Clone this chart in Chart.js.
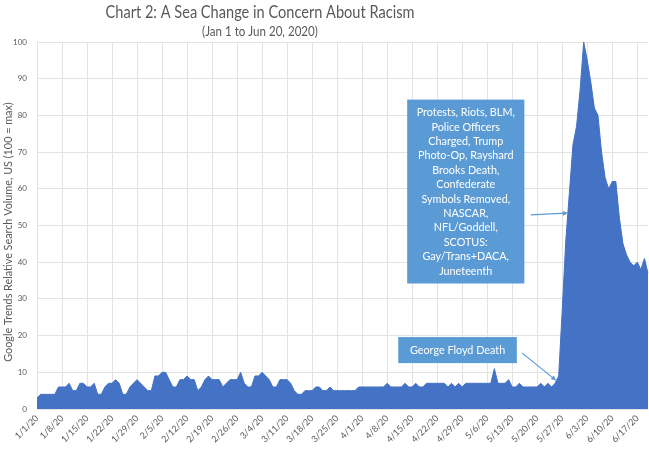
<!DOCTYPE html>
<html>
<head>
<meta charset="utf-8">
<title>Chart 2: A Sea Change in Concern About Racism</title>
<script src="https://cdn.jsdelivr.net/npm/chart.js@4.4.0/dist/chart.umd.min.js"></script>
<style>
  html, body { margin: 0; padding: 0; background: #ffffff; }
  #racism { display: block; }
</style>
</head>
<body>
<canvas id="racism" width="649" height="457"></canvas>
<script>

// google trends, US, relative search volume (100 = max), one value per day
var jan = [3,4,4,4,4,4,6,6,6,7,5,5,7,7,6,6,7,4,4,6,7,7,8,7,4,4,6,7,8,7,6];
var feb = [5,5,9,9,10,10,8,6,6,8,8,9,8,8,5,6,8,9,8,8,8,6,7,8,8,8,10,7,6];
var mar = [6,9,9,10,9,8,6,6,8,8,8,7,5,4,4,5,5,5,6,6,5,5,6,5,5,5,5,5,5,5,6];
var apr = [6,6,6,6,6,6,6,7,6,6,6,6,7,6,6,7,6,6,7,7,7,7,7,7,6,7,6,7,6,7];
var may = [7,7,7,7,7,7,7,11,7,7,7,8,6,6,7,6,6,6,6,6,7,6,7,6,7,9,27,46,59,72,77];
var jun = [87,100,95,89,82,80,70,63,60,62,62,52,45,42,40,39,40,38,41,37];

var seriesValues = jan.concat(feb, mar, apr, may, jun);

var yTicks = [0, 10, 20, 30, 40, 50, 60, 70, 80, 90, 100];
var tickEvery = 7; // a label every week: 1/1/20, 1/8/20 ...

var titleText = 'Chart 2: A Sea Change in Concern About Racism';
var subtitleText = '(Jan 1 to Jun 20, 2020)';
var yTitleText = 'Google Trends Relative Search Volume, US (100 = max)';

var protestLines = ['Protests, Riots, BLM,', 'Police Officers', 'Charged, Trump',
  'Photo-Op, Rayshard', 'Brooks Death,', 'Confederate', 'Symbols Removed,',
  'NASCAR,', 'NFL/Goddell,', 'SCOTUS:', 'Gay/Trans+DACA,', 'Juneteenth'];
var floydLines = ['George Floyd Death'];

// callouts, placed on the chart scales (x = day index, y = value)
var callouts = [
  {lines: protestLines, x0: 103.6, x1: 136.4, y0: 84.3, y1: 34.2, from: [138.2, 52.9], to: [148.7, 53.4]},
  {lines: floydLines, x0: 101.1, x1: 134.3, y0: 19.6, y1: 12.5, from: [135.7, 15.3], to: [145.4, 7.7]}
];

var textGrey = '#595959';
var fontName = 'Lato, "Open Sans", sans-serif';

function buildDayLabels(count) {

  var labels = [];
  for (var i = 0; i < count; i++) {
    var d = new Date(2020, 0, 1 + i);
    labels.push((d.getMonth() + 1) + '/' + d.getDate() + '/20');
  }
  return labels;
}

// the original used Calibri, which is narrower: squeeze the text a little
function fillNarrow(ctx, text, x, y, squeeze, angle) {

  ctx.save();
  ctx.translate(x, y);
  if (angle) {
    ctx.rotate(angle);
  }
  ctx.scale(squeeze, 1);
  ctx.fillText(text, 0, 0);
  ctx.restore();
}

function drawArrow(ctx, x1, y1, x2, y2) {

  var angle = Math.atan2(y2 - y1, x2 - x1);
  var head = 6;
  ctx.beginPath();
  ctx.moveTo(x1, y1);
  ctx.lineTo(x2 - Math.cos(angle) * 3, y2 - Math.sin(angle) * 3);
  ctx.stroke();
  ctx.beginPath();
  ctx.moveTo(x2, y2);
  ctx.lineTo(x2 - head * Math.cos(angle - 0.4), y2 - head * Math.sin(angle - 0.4));
  ctx.lineTo(x2 - head * Math.cos(angle + 0.4), y2 - head * Math.sin(angle + 0.4));
  ctx.closePath();
  ctx.fill();
}

var decorations = {
  id: 'decorations',
  afterDraw: function(chart) {

    var ctx = chart.ctx;
    var xs = chart.scales.x;
    var ys = chart.scales.y;

    ctx.save();
    ctx.fillStyle = textGrey;
    ctx.textAlign = 'center';
    ctx.textBaseline = 'middle';
    ctx.font = '18px ' + fontName;
    fillNarrow(ctx, titleText, 260, 12, 0.81);
    ctx.font = '13px ' + fontName;
    fillNarrow(ctx, subtitleText, 260, 32, 0.89);

    // y axis title
    ctx.font = '12px ' + fontName;
    fillNarrow(ctx, yTitleText, 8, 232, 0.9, -Math.PI / 2);

    for (var i = 0; i < callouts.length; i++) {
      var c = callouts[i];
      var left = xs.getPixelForValue(c.x0);
      var right = xs.getPixelForValue(c.x1);
      var top = ys.getPixelForValue(c.y0);
      var bottom = ys.getPixelForValue(c.y1);

      ctx.fillStyle = '#5b9bd5';
      ctx.fillRect(left, top, right - left, bottom - top);

      ctx.fillStyle = '#ffffff';
      ctx.font = '12px ' + fontName;
      var lineH = 14.4;
      var midY = (top + bottom) / 2 - (c.lines.length - 1) * lineH / 2;
      for (var j = 0; j < c.lines.length; j++) {
        fillNarrow(ctx, c.lines[j], (left + right) / 2, midY + j * lineH, 0.9);
      }

      ctx.strokeStyle = '#5b9bd5';
      ctx.fillStyle = '#5b9bd5';
      ctx.lineWidth = 1.2;
      drawArrow(ctx,
        xs.getPixelForValue(c.from[0]), ys.getPixelForValue(c.from[1]),
        xs.getPixelForValue(c.to[0]), ys.getPixelForValue(c.to[1]));
    }
    ctx.restore();
  }
};

function printChartRacism() {

  var labels = buildDayLabels(seriesValues.length);

  var ctx = document.getElementById('racism').getContext('2d');
  new Chart(ctx, {
    type: 'line',
    data: {
      labels: labels,
      datasets: [{
        label: 'racism',
        data: seriesValues,
        backgroundColor: '#4472c4',
        borderColor: '#4472c4',
        borderWidth: 1,
        pointRadius: 0,
        tension: 0,
        fill: 'origin'
      }]
    },
    options: {
      responsive: false,
      animation: false,
      devicePixelRatio: 1,
      layout: {
        padding: {top: 42, right: 1, left: 0, bottom: 0}
      },
      plugins: {
        legend: {display: false},
        tooltip: {enabled: false},
        title: {display: false}
      },
      scales: {
        x: {
          offset: false,
          border: {display: false},
          grid: {
            drawTicks: false,
            color: function(c) {
              return c.index % tickEvery === 0 ? '#e3e3e3' : 'rgba(0,0,0,0)';
            }
          },
          ticks: {
            autoSkip: false,
            minRotation: 45,
            maxRotation: 45,
            padding: 4,
            color: textGrey,
            font: {family: fontName, size: 9},
            callback: function(value, index) {
              return index % tickEvery === 0 ? labels[index] : '';
            }
          },
          afterFit: function(scale) {
            scale.height = 48;
            scale.paddingLeft = 0;
            scale.paddingRight = 0;
          }
        },
        y: {
          min: 0,
          max: 100,
          border: {display: false},
          grid: {drawTicks: false, color: '#e3e3e3'},
          afterBuildTicks: function(scale) {
            scale.ticks = yTicks.map(function(v) { return {value: v}; });
          },
          ticks: {
            padding: 10,
            color: textGrey,
            font: {family: fontName, size: 8}
          },
          afterFit: function(scale) {
            scale.width = 37;
          }
        }
      }
    },
    plugins: [decorations]
  });
}

printChartRacism();

</script>
</body>
</html>
